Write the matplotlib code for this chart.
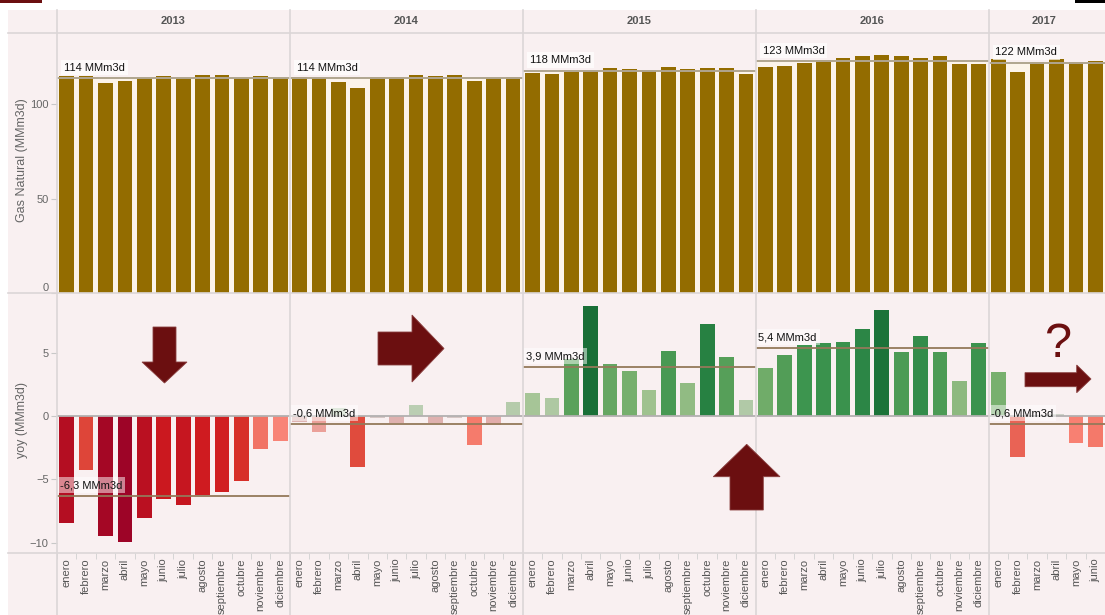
import numpy as np
import matplotlib
matplotlib.use("Agg")
import matplotlib.pyplot as plt
from matplotlib.colors import LinearSegmentedColormap
from matplotlib.patches import Polygon, Rectangle
from matplotlib.lines import Line2D
from matplotlib.transforms import blended_transform_factory

plt.rcParams['font.family'] = ['Liberation Sans', 'DejaVu Sans']

# ---- data -------------------------------------------------------------
years = ['2013', '2014', '2015', '2016', '2017']
months = ['enero', 'febrero', 'marzo', 'abril', 'mayo', 'junio', 'julio',
          'agosto', 'septiembre', 'octubre', 'noviembre', 'diciembre']

# monthly natural gas production (MMm3d)
gas_2013 = [114.9, 115.3, 111.3, 112.4, 114.2, 114.9, 114.2, 115.5, 115.5, 114.2, 114.9, 114.2]
gas_2014 = [114.3, 113.8, 111.8, 108.5, 114.5, 114.5, 115.6, 115.1, 115.6, 112.3, 113.8, 114.5]
gas_2015 = [116.6, 116.0, 117.3, 117.5, 119.1, 118.6, 117.5, 120.0, 118.6, 119.5, 119.1, 115.9]
gas_2016 = [119.8, 120.3, 122.1, 123.8, 124.9, 125.5, 126.1, 125.5, 124.4, 125.5, 121.7, 121.7]
gas_2017 = [123.9, 117.0, 122.3, 123.9, 122.3, 122.8]

# year-over-year change (MMm3d)
yoy_2013 = [-8.42, -4.26, -9.47, -9.92, -8.05, -6.55, -7.03, -6.24, -6.0, -5.13, -2.61, -1.97]
yoy_2014 = [-0.5, -1.24, 0.6, -4.0, -0.13, -0.58, 0.87, -0.58, -0.13, -2.3, -0.68, 1.1]
yoy_2015 = [1.82, 1.42, 4.5, 8.68, 4.1, 3.55, 2.05, 5.13, 2.6, 7.26, 4.66, 1.26]
yoy_2016 = [3.79, 4.82, 5.6, 5.8, 5.84, 6.87, 8.37, 5.05, 6.32, 5.05, 2.76, 5.76]
yoy_2017 = [3.47, -3.2, 0.1, 0.2, -2.1, -2.42]

avg_gas = [114, 114, 118, 123, 122]
avg_yoy = [-6.3, -0.6, 3.9, 5.4, -0.6]

gas_by_year = [gas_2013, gas_2014, gas_2015, gas_2016, gas_2017]
yoy_by_year = [yoy_2013, yoy_2014, yoy_2015, yoy_2016, yoy_2017]

# ---- styling ----------------------------------------------------------
W, H = 1105, 615
BG = '#f9f0f1'
GAS = '#936c00'
SEP = '#dcd6d7'
ARROW = '#6b0f10'


def fx(px):
    return px / W


def fy(py):
    return 1 - py / H


gas = np.concatenate(gas_by_year)
yoy = np.concatenate(yoy_by_year)
n = len(gas)
x = np.arange(n)
labels = [months[i % 12] for i in range(n)]
starts = [12 * i - 0.5 for i in range(len(years))]
ends = [min(s + 12, n - 0.5) for s in starts]

fig = plt.figure(figsize=(W / 100, H / 100), dpi=100)
fig.patch.set_facecolor('white')
fig.add_artist(Rectangle((fx(8), 0), 1 - fx(8), fy(10), transform=fig.transFigure,
                         facecolor=BG, edgecolor='none', zorder=-10))

left, right = 57, 1105
ax_top = fig.add_axes([fx(left), fy(293), (right - left) / W, (293 - 33) / H])
ax_bot = fig.add_axes([fx(left), fy(553), (right - left) / W, (553 - 293) / H], sharex=ax_top)
xmax = -0.5 + (right - left) / 19.5
for ax in (ax_top, ax_bot):
    ax.set_facecolor(BG)
    for s in ax.spines.values():
        s.set_visible(False)
    ax.set_xlim(-0.5, xmax)

# top panel: production bars with a per-year average line
ax_top.set_ylim(0, 137.9)
for s, e, a in zip(starts, ends, avg_gas):
    ax_top.fill_between([s, e], 0, a, color='#fcf4ea', zorder=0.5, lw=0)
ax_top.bar(x, gas, width=0.76, color=GAS, zorder=2)
for s, e, a in zip(starts, ends, avg_gas):
    ax_top.hlines(a, s, e, color='#b0a58f', lw=1.4, zorder=4)
    ax_top.annotate(f'{a:.0f} MMm3d', xy=(s, a), xytext=(5, 4), textcoords='offset points',
                    ha='left', va='bottom', fontsize=8, color='#111', zorder=5,
                    bbox=dict(boxstyle='square,pad=0.25', fc='white', ec='none', alpha=0.7))
ax_top.set_yticks([0, 50, 100])
ax_top.tick_params(axis='y', length=4, color='#c8c8c8', labelsize=8, labelcolor='#666', pad=2)
ax_top.tick_params(axis='x', length=0, labelbottom=False)
ax_top.get_yticklabels()[0].set_verticalalignment('bottom')

# bottom panel: year-over-year bars coloured on a diverging scale
nodes = [(-10, '#9c0427'), (-8, '#bb1121'), (-6.3, '#cf1a1f'), (-5, '#d8312a'),
         (-4, '#e04c3e'), (-3, '#ec6a5b'), (-2, '#f98375'), (-1.2, '#eba19a'),
         (-0.4, '#dcb5b5'), (0, '#d4cfcc'), (0.4, '#c9d6c4'), (1.2, '#b3caa9'),
         (2.0, '#a2c391'), (3.5, '#78b06e'), (4.5, '#5ba15b'), (5.5, '#3f9650'),
         (7.0, '#2a8545'), (8.8, '#186e36')]
vmin, vmax = nodes[0][0], nodes[-1][0]
cmap = LinearSegmentedColormap.from_list(
    'rdgn', [((v - vmin) / (vmax - vmin), c) for v, c in nodes])
colors = cmap((yoy - vmin) / (vmax - vmin))

ax_bot.set_ylim(-10.82, 9.72)
ax_bot.bar(x, yoy, width=0.76, color=colors, zorder=2)
ax_bot.axhline(0, color='#b3b0b0', lw=1.3, zorder=3)
for s, e, a in zip(starts, ends, avg_yoy):
    ax_bot.hlines(a, s, e, color='#94795a', lw=1.3, zorder=4)
    ax_bot.annotate(f'{a:.1f} MMm3d'.replace('.', ','), xy=(s, a), xytext=(2, 4),
                    textcoords='offset points', ha='left', va='bottom', fontsize=8,
                    color='#111', zorder=5,
                    bbox=dict(boxstyle='square,pad=0.25', fc='white', ec='none', alpha=0.5))
ax_bot.set_yticks([-10, -5, 0, 5])
ax_bot.tick_params(axis='y', length=4, color='#c8c8c8', labelsize=8, labelcolor='#666', pad=2)
ax_bot.set_xticks(x, labels=labels, rotation=90)
ax_bot.set_xticks(np.arange(n + 1) - 0.5, minor=True)
ax_bot.tick_params(axis='x', which='major', length=0, labelsize=8, labelcolor='#555', pad=4)
ax_bot.tick_params(axis='x', which='minor', length=4, color='#d0d0d0')

# year headers and grid separators
hdr = blended_transform_factory(ax_top.transData, fig.transFigure)
for yr, s, e in zip(years, starts, ends):
    c = (s + min(e, xmax)) / 2
    fig.text(c, fy(21), yr, transform=hdr, fontsize=8, fontweight='bold', color='#555',
             ha='center', va='center')
    fig.add_artist(Line2D([s, s], [fy(10), 0], transform=hdr, color=SEP, lw=1.2, zorder=6))
for py in (32.5, 293, 553):
    fig.add_artist(Line2D([fx(8), 1], [fy(py), fy(py)], transform=fig.transFigure,
                          color=SEP, lw=1.2, zorder=6))

# axis titles
fig.text(fx(22), fy(160), 'Gas Natural (MMm3d)', rotation=90, ha='center', va='center',
         fontsize=9, color='#666')
fig.text(fx(22), fy(420), 'yoy (MMm3d)', rotation=90, ha='center', va='center',
         fontsize=9, color='#666')

# trend arrows
arrows = [
    [(153, 327), (176, 327), (176, 362), (187, 362), (164.5, 383), (142, 362), (153, 362)],
    [(378, 332), (412, 332), (412, 315), (444, 348.5), (412, 382), (412, 365), (378, 365)],
    [(746.7, 444.3), (780, 476.7), (763.3, 476.7), (763.3, 510), (730, 510), (730, 476.7), (713.3, 476.7)],
    [(1025, 372.7), (1076.7, 372.7), (1076.7, 365), (1091, 379), (1076.7, 392.7), (1076.7, 386.7), (1025, 386.7)],
]
for pts in arrows:
    fig.add_artist(Polygon([(fx(px), fy(py)) for px, py in pts], closed=True,
                           transform=fig.transFigure, facecolor=ARROW,
                           edgecolor='#8a4040', lw=0.6, zorder=8))
fig.text(fx(1057.5), fy(357), '?', ha='center', va='baseline', fontsize=35,
         color=ARROW, zorder=8)

# title remnants at the top edge
fig.add_artist(Rectangle((0, fy(3)), fx(42), fy(0) - fy(3), transform=fig.transFigure,
                         facecolor=ARROW, edgecolor='none'))
fig.add_artist(Rectangle((fx(1075), fy(3)), 1 - fx(1075), fy(0) - fy(3),
                         transform=fig.transFigure, facecolor='black', edgecolor='none'))

fig.savefig('out.png', dpi=100, facecolor='white')
